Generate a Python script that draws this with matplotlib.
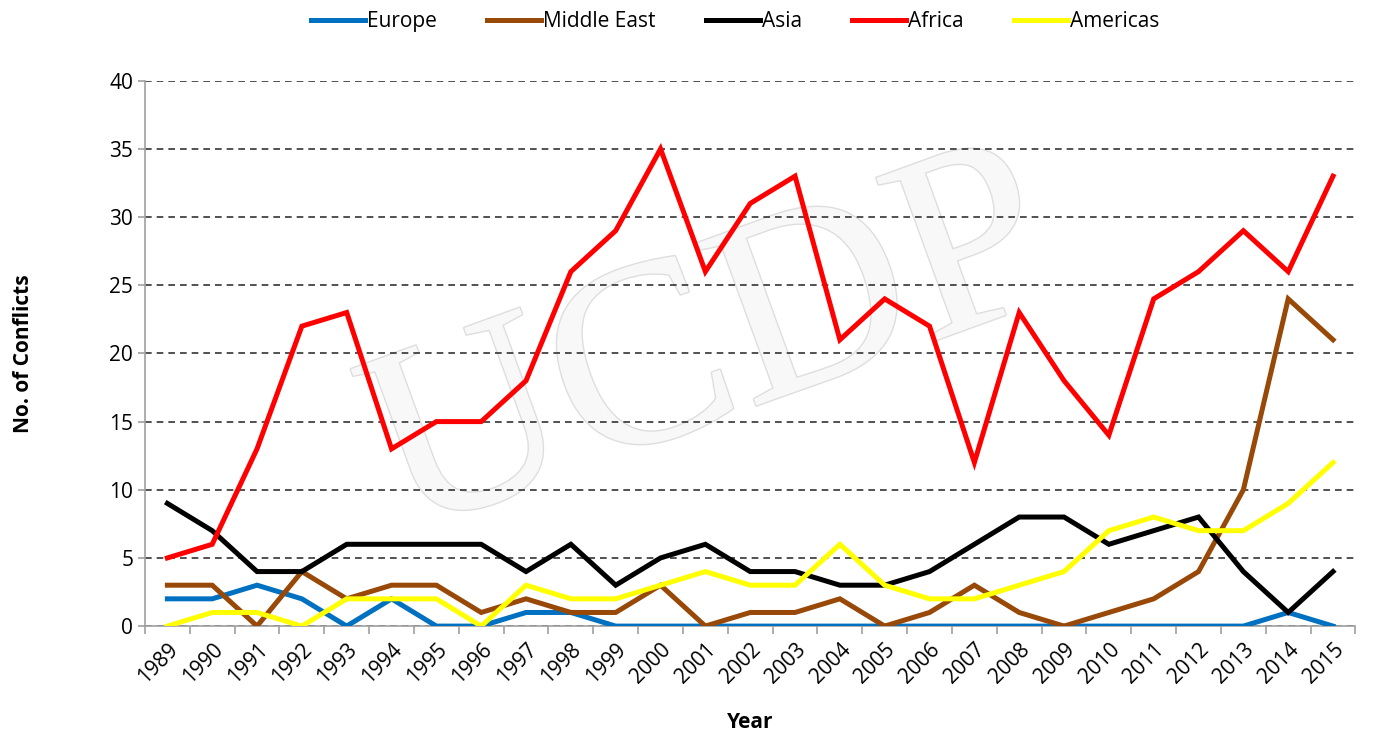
import matplotlib
matplotlib.use("Agg")
import matplotlib.pyplot as plt
import matplotlib.patheffects as pe
import numpy as np

plt.rcParams['font.family'] = ['Open Sans', 'DejaVu Sans']

# data
years = list(range(1989, 2016))
europe = [2, 2, 3, 2, 0, 2, 0, 0, 1, 1, 0, 0, 0, 0, 0, 0, 0, 0, 0, 0, 0, 0, 0, 0, 0, 1, 0]
middle_east = [3, 3, 0, 4, 2, 3, 3, 1, 2, 1, 1, 3, 0, 1, 1, 2, 0, 1, 3, 1, 0, 1, 2, 4, 10, 24, 21]
asia = [9, 7, 4, 4, 6, 6, 6, 6, 4, 6, 3, 5, 6, 4, 4, 3, 3, 4, 6, 8, 8, 6, 7, 8, 4, 1, 4]
africa = [5, 6, 13, 22, 23, 13, 15, 15, 18, 26, 29, 35, 26, 31, 33, 21, 24, 22, 12, 23, 18, 14, 24, 26, 29, 26, 33]
americas = [0, 1, 1, 0, 2, 2, 2, 0, 3, 2, 2, 3, 4, 3, 3, 6, 3, 2, 2, 3, 4, 7, 8, 7, 7, 9, 12]

series = [
    ("Europe", europe, "#0070C0"),
    ("Middle East", middle_east, "#984807"),
    ("Asia", asia, "#000000"),
    ("Africa", africa, "#FF0000"),
    ("Americas", americas, "#FFFF00"),
]

fig = plt.figure(figsize=(13.74, 7.34), dpi=100)
ax = fig.add_axes([0.1055, 0.147, 0.881, 0.743])

x = np.arange(len(years))

# watermark
ax.text(0.47, 0.5, "UCDP", transform=ax.transAxes, fontsize=190,
        family="Liberation Serif", color="#f8f8f8", rotation=20,
        ha="center", va="center", zorder=0,
        path_effects=[pe.withStroke(linewidth=2, foreground="#dedede")])

for name, vals, col in series:
    ax.plot(x, vals, color=col, lw=3.6, label=name, zorder=3,
            solid_joinstyle="miter")

ax.set_xlim(-0.5, len(years) - 0.5)
ax.set_ylim(0, 40)
ax.set_yticks(range(0, 41, 5))
ax.yaxis.grid(True, linestyle=(0, (4, 3)), color="#333333", lw=1.2)
ax.set_axisbelow(True)

ax.set_xticks(x)
ax.set_xticklabels([str(y) for y in years], rotation=45, ha="right",
                   rotation_mode="anchor", fontsize=15)
ax.tick_params(axis="x", which="major", length=0, pad=9)
ax.set_xticks(np.arange(-0.5, len(years), 1), minor=True)
ax.tick_params(axis="x", which="minor", length=6, color="#a0a0a0", width=1.2)
ax.tick_params(axis="y", labelsize=15, length=5, color="#a0a0a0", width=1.2)

for s in ["top", "right"]:
    ax.spines[s].set_visible(False)
for s in ["left", "bottom"]:
    ax.spines[s].set_color("#a0a0a0")
    ax.spines[s].set_linewidth(1.2)

ax.set_ylabel("No. of Conflicts", fontsize=15, fontweight="bold", labelpad=54)
ax.set_xlabel("Year", fontsize=15, fontweight="bold", labelpad=18)

fig.legend(loc="upper center", bbox_to_anchor=(0.535, 1.01), ncol=5,
           frameon=False, fontsize=15, handlelength=2.6, handletextpad=0.1,
           columnspacing=2.4)

fig.savefig("out.png", dpi=100)
